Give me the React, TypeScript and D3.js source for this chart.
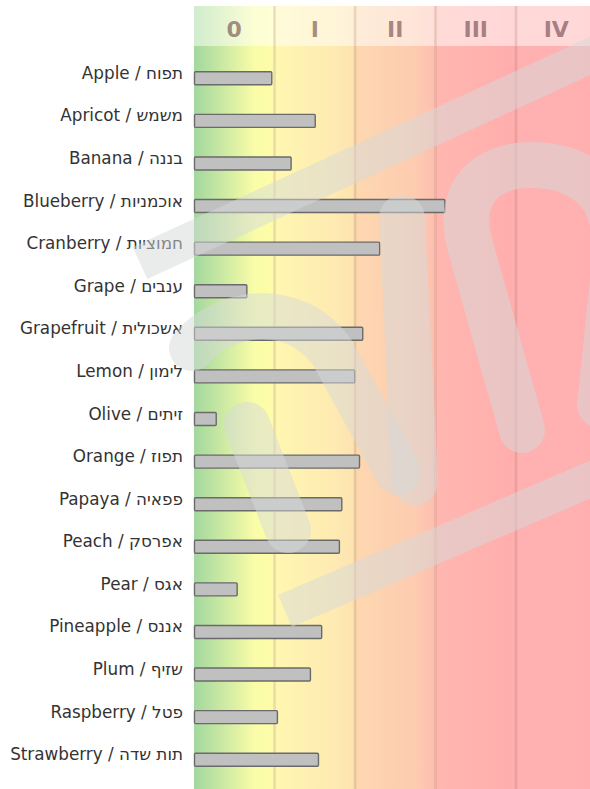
import * as d3 from 'd3';

const WIDTH = 590;
const HEIGHT = 789;

// fruit names (English / Hebrew)
const fruitsEn = [
  'Apple', 'Apricot', 'Banana', 'Blueberry', 'Cranberry', 'Grape', 'Grapefruit', 'Lemon', 'Olive',
  'Orange', 'Papaya', 'Peach', 'Pear', 'Pineapple', 'Plum', 'Raspberry', 'Strawberry',
];
const fruitsHe = [
  'תפוח', 'משמש', 'בננה', 'אוכמניות', 'חמוציות', 'ענבים', 'אשכולית', 'לימון', 'זיתים',
  'תפוז', 'פפאיה', 'אפרסק', 'אגס', 'אננס', 'שזיף', 'פטל', 'תות שדה',
];
// level, measured in classes (0 .. IV)
const levels = [
  0.96, 1.5, 1.2, 3.11, 2.3, 0.65, 2.09, 1.99, 0.27,
  2.05, 1.83, 1.8, 0.53, 1.58, 1.44, 1.03, 1.54,
];
const classLabels = ['0', 'I', 'II', 'III', 'IV'];
const classColors: [string, string, string][] = [
  ['#a2d89e', '#f9fca8', '#fffca8'],
  ['#fff7b0', '#feeab2', '#fde2b0'],
  ['#fdd8b0', '#fdcbb0', '#fdbfb0'],
  ['#ffb7b0', '#ffb0ae', '#ffadad'],
  ['#ffb0b0', '#ffb0b0', '#ffaeae'],
];

const PLOT = { left: 194, top: 46, bottom: 789, headTop: 6 };
const COL_W = 80.5;
const ROWS = { top: 57, bottom: 781 };
const BAR_H = 13;

export default function App() {
  const x = d3
    .scaleLinear()
    .domain([0, classLabels.length])
    .range([PLOT.left, PLOT.left + COL_W * classLabels.length]);
  const y = d3.scaleBand().domain(fruitsEn).range([ROWS.top, ROWS.bottom]);

  const columns = classLabels.map((lab, i) => {
    const x0 = x(i);
    const x1 = x(i + 1);
    return (
      <g key={lab}>
        <rect x={x0} y={PLOT.headTop} width={x1 - x0} height={PLOT.bottom - PLOT.headTop} fill={`url(#col${i})`} />
        <rect x={x0} y={PLOT.headTop} width={x1 - x0} height={PLOT.top - PLOT.headTop} fill="#fff" opacity={0.5} />
        {i > 0 && (
          <line x1={x0} x2={x0} y1={PLOT.headTop} y2={PLOT.bottom} stroke="rgb(150,100,80)" strokeOpacity={0.2} strokeWidth={2.5} />
        )}
        <text
          x={(x0 + x1) / 2}
          y={37}
          textAnchor="middle"
          fontFamily="DejaVu Sans"
          fontWeight="bold"
          fontSize={22}
          fill="#5a3038"
          fillOpacity={0.55}
        >
          {lab}
        </text>
      </g>
    );
  });

  const bars = fruitsEn.map((f, i) => {
    const cy = (y(f) ?? 0) + y.bandwidth() / 2;
    return (
      <g key={f}>
        <rect
          x={x(0) + 0.5}
          y={cy - BAR_H / 2}
          width={x(levels[i]) - x(0)}
          height={BAR_H}
          fill="#c0c0c0"
          stroke="#6a6a6a"
          strokeWidth={1.4}
          rx={1}
        />
        <text
          x={183}
          y={cy + 0.5}
          textAnchor="end"
          fontFamily="DejaVu Sans"
          fontSize={16.8}
          fill="#333"
        >
          {`${f} / ${fruitsHe[i]}`}
        </text>
      </g>
    );
  });

  // watermark strokes
  const mark = 'rgba(214,217,217,0.5)';

  return (
    <div style={{ position: 'absolute', left: 0, top: 0 }}>
      <svg width={WIDTH} height={HEIGHT} style={{ display: 'block' }}>
        <defs>
          {classColors.map((c, i) => (
            <linearGradient key={i} id={`col${i}`} x1="0" x2="1" y1="0" y2="0">
              <stop offset="0" stopColor={c[0]} />
              <stop offset="0.75" stopColor={c[1]} />
              <stop offset="1" stopColor={c[2]} />
            </linearGradient>
          ))}
        </defs>
        <rect width={WIDTH} height={HEIGHT} fill="#fff" />
        {columns}
        {bars}
        <g fill="none" stroke={mark}>
          <path d="M140,263 L640,33" strokeWidth={35} />
          <path d="M285,611 L640,458" strokeWidth={35} />
          <path d="M247,425 L288,530" strokeWidth={46} strokeLinecap="round" />
          <path d="M192,348 C222,312 292,298 332,352 L398,472" strokeWidth={46} strokeLinecap="round" />
          <path d="M402,218 L415,482" strokeWidth={46} strokeLinecap="round" />
          <path d="M522,430 L470,245 C455,190 490,165 530,165 C580,165 620,190 615,260 L600,405" strokeWidth={46} strokeLinecap="round" />
        </g>
      </svg>
    </div>
  );
}
